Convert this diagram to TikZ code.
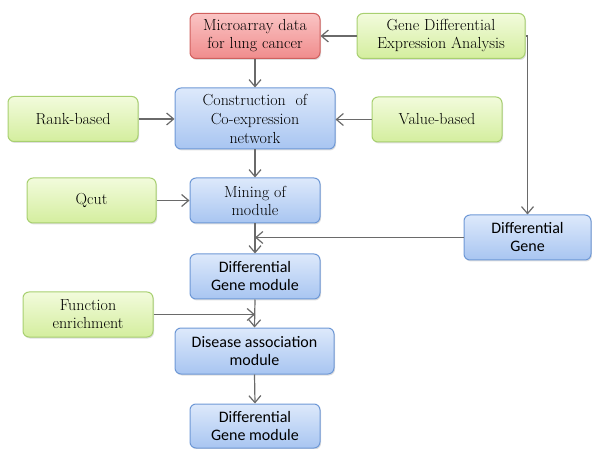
\documentclass[tikz,border=0pt]{standalone}
\usepackage{fontspec}
\newfontfamily\calibfont{Carlito}
\usepackage{tikz}
\usetikzlibrary{arrows.meta, shadows}
\definecolor{redtop}{HTML}{FAC4C4}
\definecolor{redbot}{HTML}{F08C8C}
\definecolor{redline}{HTML}{D0605E}
\definecolor{greentop}{HTML}{F2FBDC}
\definecolor{greenbot}{HTML}{D4EE9E}
\definecolor{greenline}{HTML}{A8D070}
\definecolor{bluetop}{HTML}{DDE9FB}
\definecolor{bluebot}{HTML}{A8C5F1}
\definecolor{blueline}{HTML}{6E98D6}
\definecolor{linkgray}{HTML}{6A6A6A}
\tikzset{
  box/.style={rounded corners=6pt, line width=1pt, align=center, inner sep=0pt,
    minimum width=130pt, minimum height=45pt,
    font=\rmfamily\fontsize{16}{18}\selectfont,
    drop shadow={opacity=0.25, shadow xshift=1pt, shadow yshift=-1.5pt}},
  databox/.style={box, draw=redline, top color=redtop, bottom color=redbot},
  methodbox/.style={box, draw=greenline, top color=greentop, bottom color=greenbot},
  stagebox/.style={box, draw=blueline, top color=bluetop, bottom color=bluebot},
  calib/.style={font=\calibfont\fontsize{16}{18}\selectfont},
  link/.style={draw=linkgray, line width=1.2pt, -{Straight Barb[length=7pt,width=12pt]}}
}

\begin{document}
\begin{tikzpicture}[x=1pt, y=-1pt]
\useasboundingbox (0,0) rectangle (592,449);

% data and analysis on top
\node[databox] (micro) at (255,36) {Microarray data\\for lung cancer};
\node[methodbox, minimum width=168pt] (gdea) at (441,36) {Gene Differential\\Expression Analysis};

% network construction
\node[stagebox, minimum width=160pt, minimum height=61pt,
  font=\rmfamily\fontsize{16}{19}\selectfont] (constr) at (255,118.5) {Construction\ \ of\\Co-expression\\network};
\node[methodbox] (rank) at (73,119) {Rank-based};
\node[methodbox] (value) at (437,119.5) {Value-based};

% module mining
\node[stagebox] (mining) at (255,200.5) {Mining of\\module};
\node[methodbox, minimum width=129pt] (qcut) at (91.5,200.5) {Qcut};
\node[stagebox, calib, minimum width=127pt] (dgene) at (527.5,237.5) {Differential\\Gene};

% modules
\node[stagebox, calib] (dgm) at (255,276.5) {Differential\\Gene module};
\node[methodbox] (func) at (88,314.5) {Function\\enrichment};
\node[stagebox, calib, minimum width=159pt, minimum height=46pt] (disease) at (254.5,351) {Disease association\\module};
\node[stagebox, calib, minimum height=44pt] (dgmlast) at (255,426) {Differential\\Gene module};

% connectors
\draw[link] (gdea.west) -- (micro.east);
\draw[link] (micro.south) -- (constr.north);
\draw[link] (rank.east) -- (rank.east -| constr.west);
\draw[link] (value.west) -- (value.west -| constr.east);
\draw[link] (constr.south) -- (mining.north);
\draw[link] (qcut.east) -- (qcut.east -| mining.west);
\draw[link] (gdea.east) -| (dgene.north);
\draw[link] (mining.south) -- (dgm.north);
\draw[link] (dgene.west) -- (dgene.west -| mining.south);
\draw[link] (dgm.south) -- (disease.north);
\draw[link] (func.east) -- (func.east -| dgm.south);
\draw[link] (disease.south) -- (dgmlast.north);

\end{tikzpicture}
\end{document}
